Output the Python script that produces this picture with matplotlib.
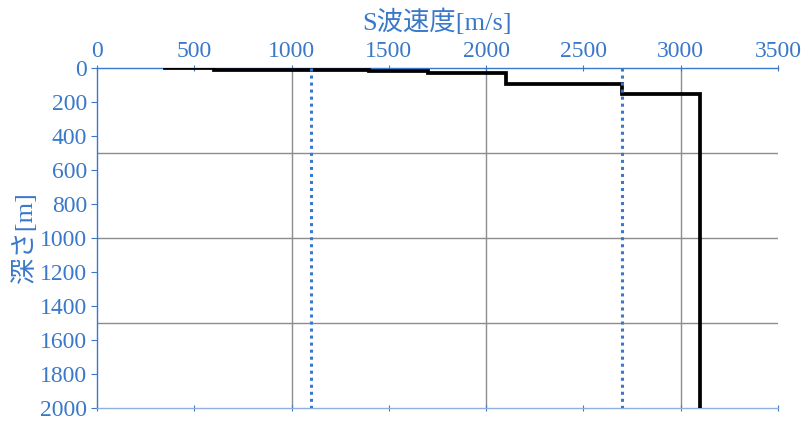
import matplotlib
matplotlib.use("Agg")
import matplotlib.pyplot as plt

# Data
vs_layers = [350, 600, 1400, 1700, 2100, 2700, 3100]
depth_tops = [0, 2, 9, 19, 31, 97, 150]
depth_bottom = 2000
ref_lines_vs = [1100, 2700]
x_ticks = [0, 500, 1000, 1500, 2000, 2500, 3000, 3500]
y_ticks = [0, 200, 400, 600, 800, 1000, 1200, 1400, 1600, 1800, 2000]
x_grid = [1000, 2000, 3000]
y_grid = [500, 1000, 1500]

fam = ['Liberation Serif', 'Noto Sans CJK JP', 'DejaVu Sans']
plt.rcParams['font.family'] = fam
blue = '#3a78c9'

fig = plt.figure(figsize=(8.1, 4.26), dpi=100)
ax = fig.add_axes([97/810, 1-408/426, (778-97)/810, (408-68)/426])

# step profile
xs, ys = [], []
bottoms = depth_tops[1:] + [depth_bottom]
for v, t, b in zip(vs_layers, depth_tops, bottoms):
    xs += [v, v]
    ys += [t, b]
ax.plot(xs, ys, color='black', lw=2.7, zorder=3, solid_joinstyle='miter')

for v in ref_lines_vs:
    ax.plot([v, v], [0, depth_bottom], color=blue, lw=2.2, ls=(0, (1, 1.3)), zorder=4)

for g in x_grid:
    ax.axvline(g, color='#8c8c8c', lw=1.0, zorder=1)
for g in y_grid:
    ax.axhline(g, color='#8c8c8c', lw=1.0, zorder=1)

ax.set_xlim(0, 3500)
ax.set_ylim(2000, 0)
ax.xaxis.tick_top()
ax.xaxis.set_label_position('top')
ax.set_xticks(x_ticks)
ax.set_yticks(y_ticks)
ax.tick_params(axis='x', which='both', direction='inout', length=5, color=blue,
               labelcolor=blue, labelsize=17, pad=2, top=True, bottom=True)
ax.tick_params(axis='y', direction='out', length=4, color=blue,
               labelcolor=blue, labelsize=17, pad=3)
ax.spines['right'].set_visible(False)
ax.spines['left'].set_color(blue)
ax.spines['top'].set_color(blue)
ax.spines['bottom'].set_color('#8fb0dc')
for s in ['left', 'top', 'bottom']:
    ax.spines[s].set_linewidth(1.0)

ax.set_xlabel('S波速度[m/s]', color=blue, fontsize=19, labelpad=8)
ax.set_ylabel('深さ[m]', color=blue, fontsize=19, labelpad=2)

fig.savefig('out.png', dpi=100)
